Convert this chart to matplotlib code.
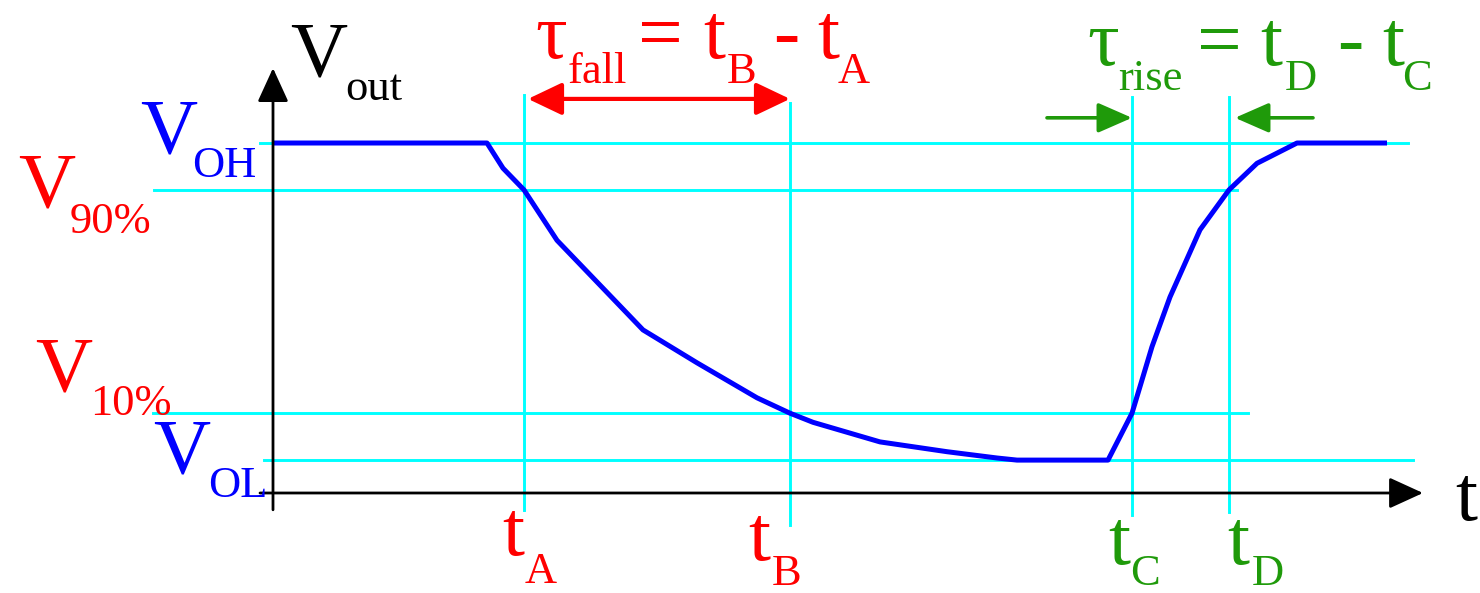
import matplotlib
matplotlib.use("Agg")
import matplotlib.pyplot as plt

# output voltage levels (V)
V_OH = 5.0
V_90 = 4.33
V_10 = 1.14
V_OL = 0.47

# crossing times (ns)
t_A = 2.51
t_B = 5.17
t_C = 8.59
t_D = 9.56

# output waveform: high, falling edge, low, rising edge, high
t_wave = [0.0, 2.14, 2.30, t_A, 2.84, 3.70, 4.24, 4.84, t_B, 5.40, 6.07, 6.74,
          7.24, 7.44, 8.35, t_C, 8.79, 8.97, 9.27, t_D, 9.84, 10.24, 11.14]
v_wave = [V_OH, V_OH, 4.64, V_90, 3.61, 2.33, 1.86, 1.36, V_10, 1.01, 0.73, 0.59,
          0.50, V_OL, V_OL, V_10, 2.09, 2.80, 3.76, V_90, 4.71, V_OH, V_OH]

RED = "#ff0000"
BLUE = "#0000ff"
GREEN = "#1f9a0a"
CYAN = "#00ffff"

plt.rcParams["font.family"] = ["Liberation Serif", "DejaVu Serif"]

fig = plt.figure(figsize=(14.8, 5.93), dpi=100)
ax = fig.add_axes([0, 0, 1, 1])
ax.set_xlim(-2.73, 12.07)
ax.set_ylim(-1.4286, 7.043)
ax.axis("off")

# reference levels
ax.plot([-0.13, 11.35], [V_OH, V_OH], color=CYAN, lw=2.1, zorder=1)
ax.plot([-1.19, 9.64], [V_90, V_90], color=CYAN, lw=2.1, zorder=1)
ax.plot([-1.20, 9.75], [V_10, V_10], color=CYAN, lw=2.1, zorder=1)
ax.plot([-0.09, 11.40], [V_OL, V_OL], color=CYAN, lw=2.1, zorder=1)

# time markers
ax.plot([t_A, t_A], [-0.24, 5.69], color=CYAN, lw=2.1, zorder=1)
ax.plot([t_B, t_B], [-0.46, 5.57], color=CYAN, lw=2.1, zorder=1)
ax.plot([t_C, t_C], [-0.31, 5.66], color=CYAN, lw=2.1, zorder=1)
ax.plot([t_D, t_D], [-0.27, 5.66], color=CYAN, lw=2.1, zorder=1)

# axes with arrow heads
axis_arrow = dict(arrowstyle="-|>,head_length=1.05,head_width=0.48",
                  mutation_scale=20, color="black", lw=2.0,
                  shrinkA=0, shrinkB=0)
ax.annotate("", xy=(0, 6.07), xytext=(0, -0.24), arrowprops=axis_arrow, zorder=3)
ax.annotate("", xy=(11.50, 0), xytext=(-0.13, 0), arrowprops=axis_arrow, zorder=3)

ax.plot(t_wave, v_wave, color=BLUE, lw=3.6, solid_joinstyle="round",
        solid_capstyle="butt", zorder=2)

# fall-time span arrow
ax.annotate("", xy=(t_B, 5.63), xytext=(t_A + 0.04, 5.63),
            arrowprops=dict(arrowstyle="<|-|>,head_length=1.05,head_width=0.5",
                            mutation_scale=20, color=RED, lw=3.0,
                            shrinkA=0, shrinkB=0))

# rise-time pointing arrows
rise_arrow = dict(arrowstyle="-|>,head_length=1.05,head_width=0.46",
                  mutation_scale=20, color=GREEN, lw=2.6, shrinkA=0, shrinkB=0)
ax.annotate("", xy=(t_C, 5.36), xytext=(7.74, 5.36), arrowprops=rise_arrow)
ax.annotate("", xy=(t_D + 0.06, 5.36), xytext=(10.40, 5.36), arrowprops=rise_arrow)

BIG = 57
SUB = 32


def word(x, y, s, color, size=BIG):
    ax.text(x, y, s, color=color, fontsize=size, ha="left", va="baseline")


# axis titles
word(0.17, 5.97, "V", "black")
word(0.72, 5.61, "out", "black", SUB)
word(11.82, -0.39, "t", "black")

# voltage level labels
word(-1.33, 4.87, "V", BLUE)
word(-0.81, 4.51, "OH", BLUE, SUB)
word(-2.55, 4.09, "V", RED)
word(-2.03, 3.71, "90%", RED, SUB)
word(-2.38, 1.46, "V", RED)
word(-1.83, 1.11, "10%", RED, SUB)
word(-1.20, 0.30, "V", BLUE)
word(-0.65, -0.06, "OL", BLUE, SUB)

# time labels
word(2.29, -0.89, "t", RED)
word(2.52, -1.29, "A", RED, SUB)
word(4.75, -0.96, "t", RED)
word(4.99, -1.31, "B", RED, SUB)
word(8.35, -1.01, "t", GREEN)
word(8.57, -1.31, "C", GREEN, SUB)
word(9.54, -1.01, "t", GREEN)
word(9.79, -1.31, "D", GREEN, SUB)

# fall time equation
word(2.62, 6.21, "τ", RED)
word(2.95, 5.86, "fall", RED, SUB)
word(3.65, 6.21, "=", RED)
word(4.30, 6.21, "t", RED)
word(4.54, 5.86, "B", RED, SUB)
word(5.00, 6.21, "-", RED)
word(5.44, 6.21, "t", RED)
word(5.65, 5.86, "A", RED, SUB)

# rise time equation
word(8.14, 6.11, "τ", GREEN)
word(8.45, 5.76, "rise", GREEN, SUB)
word(9.24, 6.11, "=", GREEN)
word(9.87, 6.11, "t", GREEN)
word(10.12, 5.76, "D", GREEN, SUB)
word(10.64, 6.11, "-", GREEN)
word(11.09, 6.11, "t", GREEN)
word(11.29, 5.76, "C", GREEN, SUB)

fig.savefig("out.png", dpi=100, facecolor="white")
